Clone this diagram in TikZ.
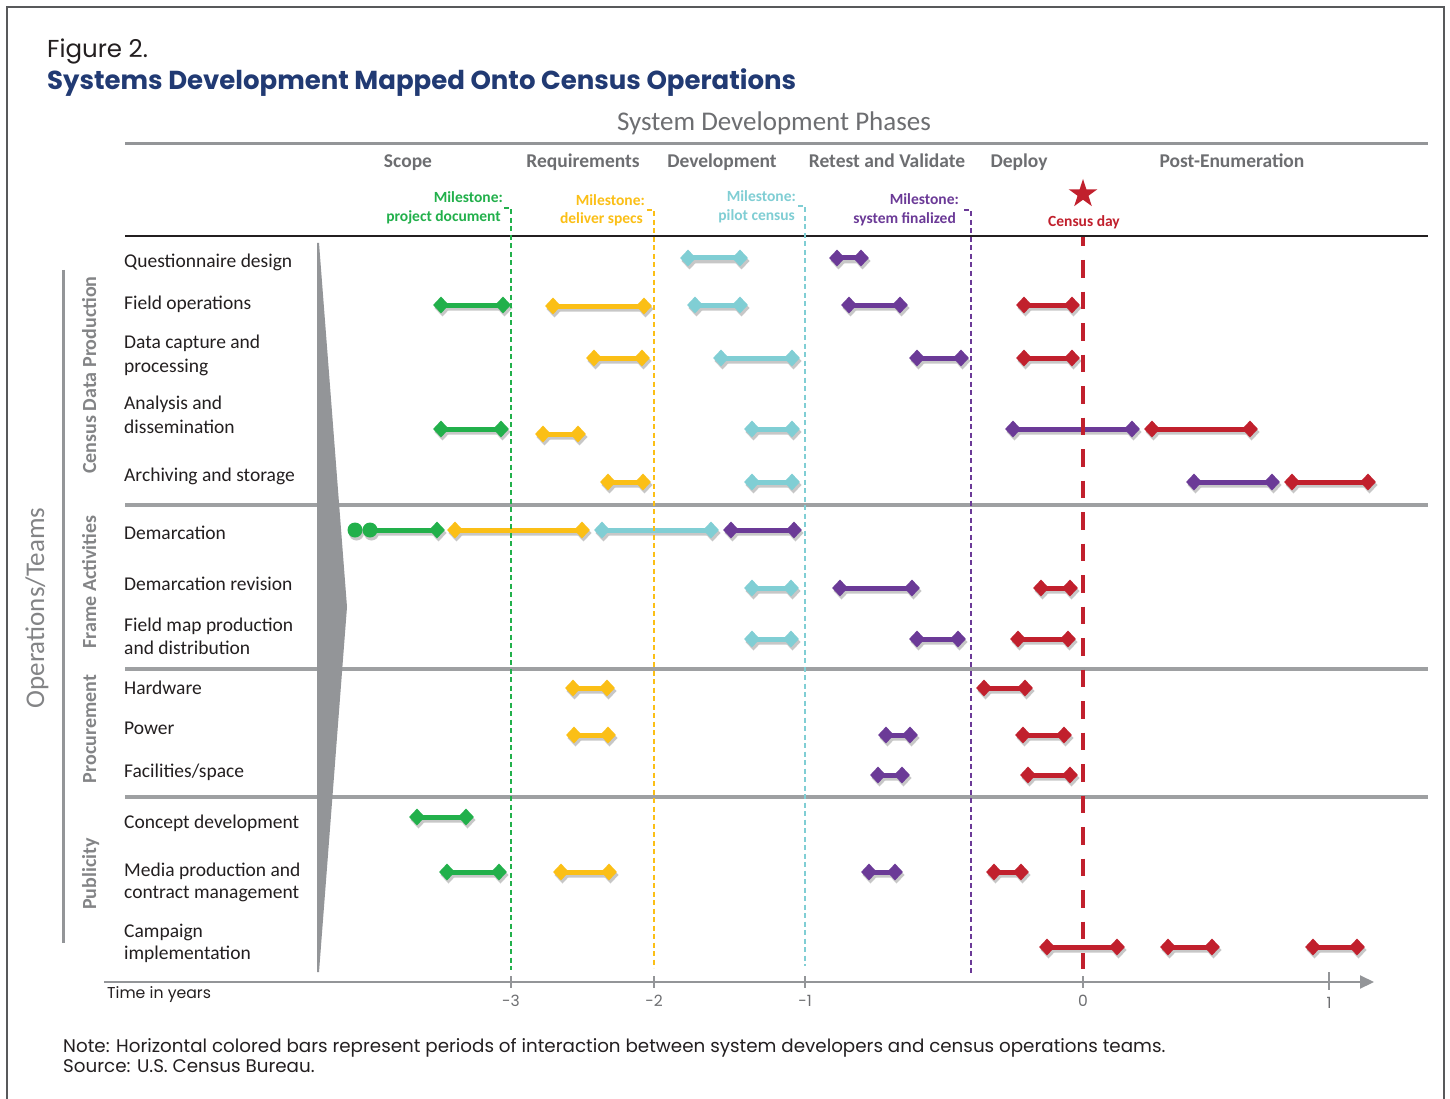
\documentclass[tikz,border=0pt]{standalone}
\usepackage{fontspec}
\setmainfont{Carlito}
\newfontfamily\geo{Poppins}
\usetikzlibrary{shapes.geometric,arrows.meta}

\definecolor{cgreen}{HTML}{22B04B}
\definecolor{cyellow}{HTML}{FBBF16}
\definecolor{ccyan}{HTML}{80CED4}
\definecolor{cpurple}{HTML}{6B3A97}
\definecolor{cred}{HTML}{C1202D}
\definecolor{cgrey}{HTML}{939598}
\definecolor{ctext}{HTML}{6D6E71}
\definecolor{cblue}{HTML}{213A73}
\definecolor{cframe}{HTML}{58595B}
\definecolor{cink}{HTML}{231F20}

\tikzset{
  dmd/.style={diamond, inner sep=0pt, minimum width=16pt, minimum height=17pt, fill=#1},
  dot/.style={circle, inner sep=0pt, minimum size=15pt, fill=#1},
  barline/.style={line width=5pt, draw=#1},
  rowlabel/.style={anchor=base west, inner sep=0pt, text=cink, font=\fontsize{19.5pt}{23pt}\selectfont},
  phase/.style={anchor=base, inner sep=0pt, text=ctext, font=\fontsize{19.5pt}{23pt}\selectfont\bfseries},
  mslabel/.style={anchor=base east, inner sep=0pt, text=#1, font=\fontsize{15.5pt}{18pt}\selectfont\bfseries},
  group/.style={rotate=90, anchor=base, inner sep=0pt, text=ctext!85, font=\fontsize{20pt}{24pt}\selectfont\bfseries},
  separator/.style={draw=cgrey!90, line width=4pt},
  milestone/.style={draw=#1, line width=1.2pt, dash pattern=on 5pt off 3.5pt},
  ticklabel/.style={anchor=base, inner sep=0pt, text=ctext, font=\geo\fontsize{15.5pt}{18pt}\selectfont},
}

% one bar: two diamonds joined by a thick line, with a soft shadow underneath
\newcommand\phasebar[5]{%
  \begin{scope}[transparency group, opacity=0.22, shift={(1.5,3)}]
    \fill[black] (#4-8,#3) -- (#4,#3-8.5) -- (#4+8,#3) -- (#4,#3+8.5) -- cycle;
    \fill[black] (#5-8,#3) -- (#5,#3-8.5) -- (#5+8,#3) -- (#5,#3+8.5) -- cycle;
    \draw[black, line width=5pt] (#4,#3) -- (#5,#3);
  \end{scope}
  \node[dmd=#2] (#1a) at (#4,#3) {};
  \node[dmd=#2] (#1b) at (#5,#3) {};
  \draw[barline=#2] (#1a.center) -- (#1b.center);
}

\begin{document}
\begin{tikzpicture}[x=1pt, y=-1pt]
\useasboundingbox (0,0) rectangle (1450,1099);
\fill[white] (0,0) rectangle (1450,1099);

% frame
\draw[cframe, line width=1.5pt] (7,1099) -- (7,7) -- (1444,7) -- (1444,1099);

% titles
\node[anchor=base west, inner sep=0pt, text=cink, font=\geo\fontsize{24.5pt}{28pt}\selectfont] (fig) at (47,58) {Figure 2.};
\node[anchor=base west, inner sep=0pt, text=cblue, font=\geo\fontsize{26pt}{30pt}\selectfont\bfseries] (title) at (47,90) {Systems Development Mapped Onto Census Operations};

% header
\node[anchor=base, inner sep=0pt, text=ctext, font=\fontsize{27pt}{30pt}\selectfont] (sdp) at (774,131) {System Development Phases};
\draw[cgrey, line width=3pt] (125,144) -- (1428,144);
\node[phase] (ph1) at (408,168) {Scope};
\node[phase] (ph2) at (583,168) {Requirements};
\node[phase] (ph3) at (722,168) {Development};
\node[phase] (ph4) at (887,168) {Retest and Validate};
\node[phase] (ph5) at (1019,168) {Deploy};
\node[phase] (ph6) at (1232,168) {Post-Enumeration};
\draw[cink, line width=2pt] (125,236) -- (1428,236);

% milestone labels
\node[mslabel=cgreen] (m1a) at (503,203) {Milestone:};
\node[mslabel=cgreen] (m1b) at (501,222) {project document};
\node[mslabel=cyellow] (m2a) at (645,206) {Milestone:};
\node[mslabel=cyellow] (m2b) at (643,224) {deliver specs};
\node[mslabel=ccyan] (m3a) at (796,202) {Milestone:};
\node[mslabel=ccyan] (m3b) at (795,221) {pilot census};
\node[mslabel=cpurple] (m4a) at (959,205) {Milestone:};
\node[mslabel=cpurple] (m4b) at (956,224) {system finalized};

% census day
\node[star, star points=5, star point ratio=2.618, minimum size=30pt, inner sep=0pt, fill=cred] (star) at (1083,194) {};
\node[anchor=base, inner sep=0pt, text=cred, font=\fontsize{15.5pt}{18pt}\selectfont\bfseries] (cday) at (1084,227) {Census day};

% left group labels
\draw[cgrey, line width=3pt] (63,270) -- (63,943);
\node[rotate=90, anchor=base, inner sep=0pt, text=ctext!85, font=\fontsize{27pt}{30pt}\selectfont] (ops) at (44,608) {Operations/Teams};
\node[group] (g1) at (96,375) {Census Data Production};
\node[group] (g2) at (96,582) {Frame Activities};
\node[group] (g3) at (96,729) {Procurement};
\node[group] (g4) at (96,874) {Publicity};

% row labels
\node[rowlabel] (r1) at (124,267) {Questionnaire design};
\node[rowlabel] (r2) at (124,309) {Field operations};
\node[rowlabel] (r3a) at (124,348) {Data capture and};
\node[rowlabel] (r3b) at (124,372) {processing};
\node[rowlabel] (r4a) at (124,409) {Analysis and};
\node[rowlabel] (r4b) at (124,433) {dissemination};
\node[rowlabel] (r5) at (124,481) {Archiving and storage};
\node[rowlabel] (r6) at (124,539) {Demarcation};
\node[rowlabel] (r7) at (124,590) {Demarcation revision};
\node[rowlabel] (r8a) at (124,631) {Field map production};
\node[rowlabel] (r8b) at (124,654) {and distribution};
\node[rowlabel] (r9) at (124,694) {Hardware};
\node[rowlabel] (r10) at (124,734) {Power};
\node[rowlabel] (r11) at (124,777) {Facilities/space};
\node[rowlabel] (r12) at (124,828) {Concept development};
\node[rowlabel] (r13a) at (124,876) {Media production and};
\node[rowlabel] (r13b) at (124,898) {contract management};
\node[rowlabel] (r14a) at (124,937) {Campaign};
\node[rowlabel] (r14b) at (124,959) {implementation};

% section separators
\draw[separator] (125,505) -- (1428,505);
\draw[separator] (125,669) -- (1428,669);
\draw[separator] (125,797) -- (1428,797);

% big time arrow
\fill[cgrey] (317,243) -- (319,243) -- (347,607) -- (319,972) -- (317,972) -- cycle;

% bars
\phasebar{qa}{ccyan}{258}{688}{740}
\phasebar{qb}{cpurple}{258}{837}{861}

\phasebar{fa}{cgreen}{305}{441}{503}
\phasebar{fb}{cyellow}{306}{553}{644}
\phasebar{fc}{ccyan}{305}{695}{740}
\phasebar{fd}{cpurple}{305}{849}{900}
\phasebar{fe}{cred}{305}{1024}{1072}

\phasebar{da}{cyellow}{358}{594}{642}
\phasebar{db}{ccyan}{358}{721}{792}
\phasebar{dc}{cpurple}{358}{917}{961}
\phasebar{dd}{cred}{358}{1024}{1072}

\phasebar{aa}{cgreen}{429}{441}{501}
\phasebar{ab}{cyellow}{434}{543}{578}
\phasebar{ac}{ccyan}{429}{752}{792}
\phasebar{ad}{cpurple}{429}{1013}{1132}
\phasebar{ae}{cred}{429}{1152}{1250}

\phasebar{sa}{cyellow}{482}{608}{643}
\phasebar{sb}{ccyan}{482}{752}{792}
\phasebar{sc}{cpurple}{482}{1194}{1272}
\phasebar{sd}{cred}{482}{1292}{1368}

% demarcation: open start shown by two dots
\begin{scope}[transparency group, opacity=0.22, shift={(1.5,3)}]
  \fill[black] (355,530) circle (7.5) (370,530) circle (7.5);
  \fill[black] (429,530) -- (437,521.5) -- (445,530) -- (437,538.5) -- cycle;
  \draw[black, line width=5pt] (370,530) -- (437,530);
\end{scope}
\node[dot=cgreen] (ma1) at (355,530) {};
\node[dot=cgreen] (ma2) at (370,530) {};
\node[dmd=cgreen] (mab) at (437,530) {};
\draw[barline=cgreen] (ma2.center) -- (mab.center);
\phasebar{mb}{cyellow}{530}{455}{582}
\phasebar{mc}{ccyan}{530}{602}{711}
\phasebar{md}{cpurple}{530}{731}{794}

\phasebar{va}{ccyan}{588}{752}{791}
\phasebar{vb}{cpurple}{588}{840}{912}
\phasebar{vc}{cred}{588}{1041}{1070}

\phasebar{pa}{ccyan}{639}{752}{791}
\phasebar{pb}{cpurple}{639}{917}{958}
\phasebar{pc}{cred}{639}{1018}{1068}

\phasebar{ha}{cyellow}{688}{573}{607}
\phasebar{hb}{cred}{688}{984}{1025}

\phasebar{wa}{cyellow}{735}{574}{608}
\phasebar{wb}{cpurple}{735}{886}{910}
\phasebar{wc}{cred}{735}{1023}{1064}

\phasebar{ya}{cpurple}{775}{878}{902}
\phasebar{yb}{cred}{775}{1028}{1070}

\phasebar{ca}{cgreen}{817}{417}{466}

\phasebar{ea}{cgreen}{872}{447}{499}
\phasebar{eb}{cyellow}{872}{561}{609}
\phasebar{ec}{cpurple}{872}{869}{895}
\phasebar{ed}{cred}{872}{994}{1021}

\phasebar{ia}{cred}{947}{1047}{1117}
\phasebar{ib}{cred}{947}{1168}{1212}
\phasebar{ic}{cred}{947}{1313}{1357}

% milestone lines
\draw[milestone=cgreen] (504,208) -- (511,208) -- (511,970);
\draw[milestone=cyellow] (647,210) -- (654,210) -- (654,968);
\draw[milestone=ccyan] (798,206) -- (805,206) -- (805,966);
\draw[milestone=cpurple] (964,210) -- (971,210) -- (971,975);

% census day line
\draw[cred, line width=4.5pt, dash pattern=on 17.5pt off 14pt, dash phase=8.5pt] (1083,237) -- (1083,969);

% time axis
\coordinate (ax0) at (104,982);
\coordinate (ax1) at (1374,982);
\draw[cgrey, line width=2pt, -{Triangle[length=14pt,width=13pt]}] (ax0) -- (ax1);
\foreach \x/\l in {511/-3, 654/-2, 805/-1, 1083/0} {
  \draw[cgrey, line width=1.5pt] (\x,976) -- (\x,988);
  \node[ticklabel] at (\x,1006) {\l};
}
\draw[cgrey, line width=1.5pt] (1329,972) -- (1329,990);
\node[ticklabel] (t1) at (1329,1008) {1};
\node[anchor=base west, inner sep=0pt, text=cink, font=\geo\fontsize{15.7pt}{18pt}\selectfont] (tiy) at (107,998) {Time in years};

% note
\node[anchor=base west, inner sep=0pt, text=cink, font=\geo\fontsize{18.3pt}{21pt}\selectfont] (note) at (63,1052) {Note: Horizontal colored bars represent periods of interaction between system developers and census operations teams.};
\node[anchor=base west, inner sep=0pt, text=cink, font=\geo\fontsize{18.3pt}{21pt}\selectfont] (src) at (63,1072) {Source: U.S. Census Bureau.};
\end{tikzpicture}
\end{document}
